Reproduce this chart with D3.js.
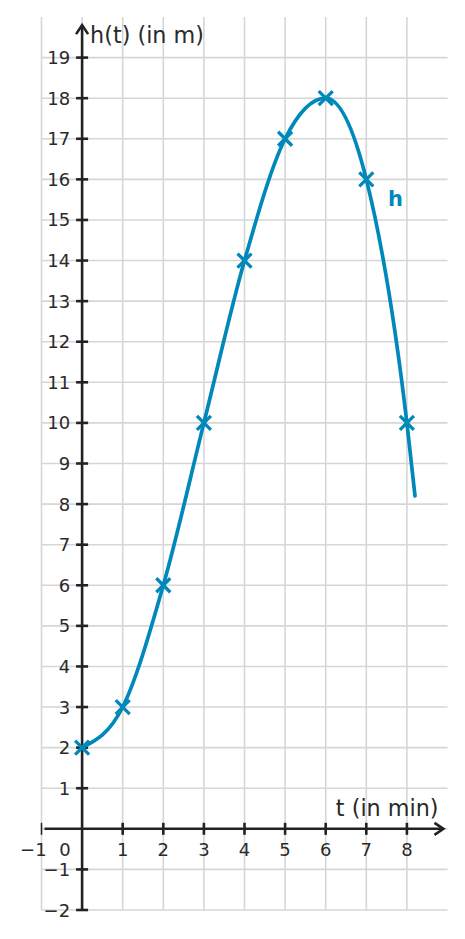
<!DOCTYPE html>
<html><head><meta charset="utf-8">
<script src="https://cdn.jsdelivr.net/npm/d3@7"></script>
<style>body{margin:0;background:#fff}svg{display:block}text{font-family:"DejaVu Sans",sans-serif}</style>
</head><body>
<script>
const tValues = [0,1,2,3,4,5,6,7,8];
const hValues = [2,3,6,10,14,17,18,16,10];
const curveEnd = [8.2, 8.2];
const xTicks = [1,2,3,4,5,6,7,8];
const yTicks = [-2,-1,1,2,3,4,5,6,7,8,9,10,11,12,13,14,15,16,17,18,19];
const xLabel = "t (in min)", yLabel = "h(t) (in m)", fnLabel = "h";

const W=465,H=939, blue="#0088bb", ink="#222", txt="#2a2a2a";
const svg=d3.select("body").append("svg").attr("width",W).attr("height",H);
const x=d3.scaleLinear([-1,9],[41.5,447.5]);
const y=d3.scaleLinear([-2,20],[910,17]);

const g=svg.append("g");
// grid
g.selectAll(".hg").data(d3.range(-2,20)).join("line")
 .attr("x1",x(-1)).attr("x2",x(9)).attr("y1",d=>y(d)).attr("y2",d=>y(d))
 .attr("stroke","#d6d6d6").attr("stroke-width",1.6);
g.selectAll(".vg").data(d3.range(-1,9)).join("line")
 .attr("y1",y(-2)).attr("y2",y(20)).attr("x1",d=>x(d)).attr("x2",d=>x(d))
 .attr("stroke","#d6d6d6").attr("stroke-width",1.6);

// axes
g.append("line").attr("x1",x(-1)+3).attr("x2",x(8.9)).attr("y1",y(0)).attr("y2",y(0)).attr("stroke",ink).attr("stroke-width",2.6);
g.append("line").attr("x1",x(0)).attr("x2",x(0)).attr("y1",y(-2)).attr("y2",y(19.8)).attr("stroke",ink).attr("stroke-width",2.6);
// arrow heads
g.append("path").attr("d",`M${x(8.9)-9},${y(0)-6}L${x(8.9)},${y(0)}L${x(8.9)-9},${y(0)+6}`).attr("fill","none").attr("stroke",ink).attr("stroke-width",2.6);
g.append("path").attr("d",`M${x(0)-6},${y(19.8)+9}L${x(0)},${y(19.8)}L${x(0)+6},${y(19.8)+9}`).attr("fill","none").attr("stroke",ink).attr("stroke-width",2.6);
// ticks
g.selectAll(".xt").data(xTicks).join("line").attr("x1",d=>x(d)).attr("x2",d=>x(d)).attr("y1",y(0)-6).attr("y2",y(0)+6).attr("stroke",ink).attr("stroke-width",2.6);
g.append("line").attr("x1",x(-1)).attr("x2",x(-1)).attr("y1",y(0)-6).attr("y2",y(0)+6).attr("stroke",ink).attr("stroke-width",1.5);
g.selectAll(".yt").data(yTicks).join("line").attr("y1",d=>y(d)).attr("y2",d=>y(d)).attr("x1",x(0)-6).attr("x2",x(0)+6).attr("stroke",ink).attr("stroke-width",2.6);

// tick labels
const fs=18;
g.selectAll(".xl").data(xTicks).join("text").attr("x",d=>x(d)).attr("y",y(0)+27).attr("text-anchor","middle")
 .attr("font-size",fs).attr("fill",txt).text(d=>d);
g.append("text").attr("x",x(-0.42)).attr("y",y(0)+27).attr("text-anchor","middle").attr("font-size",fs).attr("fill",txt).text("0");
g.append("text").attr("x",x(-1.2)).attr("y",y(0)+27).attr("text-anchor","middle").attr("font-size",fs).attr("fill",txt).text("\u22121");
g.selectAll(".yl").data(yTicks).join("text").attr("x",x(0)-12).attr("y",d=>y(d)+6.5).attr("text-anchor","end")
 .attr("font-size",fs).attr("fill",txt).text(d=>d<0?"\u2212"+Math.abs(d):d);

// axis labels
g.append("text").attr("x",x(0)+8).attr("y",y(19.8)+18).attr("font-size",22.3).attr("fill",txt).text(yLabel);
g.append("text").attr("x",x(8.78)).attr("y",y(0)-13).attr("text-anchor","end").attr("font-size",22.3).attr("fill",txt).text(xLabel);

// curve
const pts=tValues.map((t,i)=>[t,hValues[i]]).concat([curveEnd]);
const line=d3.line().x(d=>x(d[0])).y(d=>y(d[1])).curve(d3.curveMonotoneX);
g.append("path").attr("d",line(pts)).attr("fill","none").attr("stroke",blue).attr("stroke-width",3.7).attr("stroke-linecap","round");
// markers
const s=7;
g.selectAll(".mk").data(tValues.map((t,i)=>[t,hValues[i]])).join("path")
 .attr("d",d=>{const cx=x(d[0]),cy=y(d[1]);return `M${cx-s},${cy-s}L${cx+s},${cy+s}M${cx-s},${cy+s}L${cx+s},${cy-s}`;})
 .attr("stroke",blue).attr("stroke-width",3.3).attr("fill","none");
g.append("text").attr("x",x(7.72)).attr("y",y(15.5)+6.5).attr("text-anchor","middle").attr("font-size",21).attr("font-weight","bold").attr("fill",blue).text(fnLabel);
</script>
</body></html>
